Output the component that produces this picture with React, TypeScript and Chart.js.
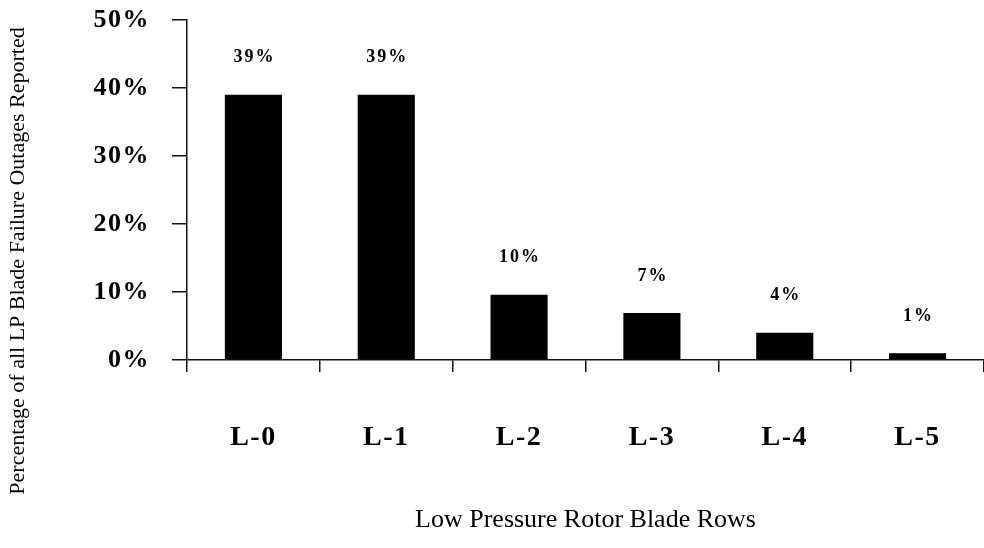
import React, { useEffect, useRef } from 'react';
import { Chart, registerables } from 'chart.js';

Chart.register(...registerables);

const categories = ['L-0', 'L-1', 'L-2', 'L-3', 'L-4', 'L-5'];
const shares = [39, 39, 9.6, 6.9, 4, 1];
const shareLabels = ['39%', '39%', '10%', '7%', '4%', '1%'];
const yMin = 0;
const yMax = 50;
const yStep = 10;
const xTitle = 'Low Pressure Rotor Blade Rows';
const yTitle = 'Percentage of all LP Blade Failure Outages Reported';

const SERIF = '"Liberation Serif", "Times New Roman", serif';

const decor = {
  id: 'decor',
  beforeDraw(chart: any) {
    chart.ctx.letterSpacing = '1.5px';
  },
  afterDatasetsDraw(chart: any) {
    const ctx = chart.ctx;
    const meta = chart.getDatasetMeta(0);
    ctx.save();
    ctx.font = `bold 18px ${SERIF}`;
    ctx.letterSpacing = '2px';
    ctx.fillStyle = '#000';
    ctx.textAlign = 'center';
    ctx.textBaseline = 'middle';
    meta.data.forEach((el: any, i: number) => {
      ctx.fillText(shareLabels[i], el.x + 1, el.y - 37);
    });
    ctx.restore();
  },
  afterDraw(chart: any) {
    const ctx = chart.ctx;
    const area = chart.chartArea;
    ctx.save();
    ctx.letterSpacing = '0px';
    ctx.fillStyle = '#000';
    ctx.textAlign = 'center';
    ctx.textBaseline = 'middle';
    ctx.font = `26px ${SERIF}`;
    ctx.fillText(xTitle, (area.left + area.right) / 2, 520);
    ctx.translate(18, 261);
    ctx.rotate(-Math.PI / 2);
    ctx.font = `22px ${SERIF}`;
    ctx.fillText(yTitle, 0, 0);
    ctx.restore();
  },
};

export default function App() {
  const ref = useRef<HTMLCanvasElement | null>(null);
  useEffect(() => {
    document.body.style.margin = '0';
    const chart = new Chart(ref.current as HTMLCanvasElement, {
      type: 'bar',
      data: {
        labels: categories,
        datasets: [
          {
            data: shares,
            backgroundColor: '#000',
            borderWidth: 0,
            barPercentage: 0.43,
            categoryPercentage: 1,
          },
        ],
      },
      options: {
        responsive: false,
        animation: false,
        layout: { padding: { top: 20, right: 0, left: 0, bottom: 0 } },
        plugins: {
          legend: { display: false },
          tooltip: { enabled: false },
          title: { display: false },
        },
        scales: {
          x: {
            grid: {
              display: true,
              drawOnChartArea: false,
              drawTicks: true,
              tickLength: 12,
              color: '#111',
              lineWidth: 1.5,
              offset: true,
            },
            border: { display: true, color: '#111', width: 1.5 },
            ticks: {
              color: '#000',
              font: { family: SERIF, size: 28, weight: 'bold' },
              padding: 49,
              maxRotation: 0,
              autoSkip: false,
            },
            afterFit(scale: any) {
              scale.height = 188;
              scale.paddingLeft = 0;
              scale.paddingRight = 0;
            },
          },
          y: {
            min: yMin,
            max: yMax,
            grid: {
              display: true,
              drawOnChartArea: false,
              drawTicks: true,
              tickLength: 15,
              color: '#111',
              lineWidth: 1.5,
            },
            border: { display: true, color: '#111', width: 1.5 },
            ticks: {
              stepSize: yStep,
              color: '#000',
              font: { family: SERIF, size: 26, weight: 'bold' },
              padding: 22,
              callback: (v: any) => `${v}%`,
            },
            afterFit(scale: any) {
              scale.width = 187;
              scale.paddingTop = 0;
              scale.paddingBottom = 0;
            },
          },
        },
      },
      plugins: [decor],
    });
    return () => chart.destroy();
  }, []);
  return (
    <div style={{ position: 'absolute', left: 0, top: 0, width: 984, height: 548, background: '#fff' }}>
      <canvas ref={ref} width={984} height={548} />
    </div>
  );
}
